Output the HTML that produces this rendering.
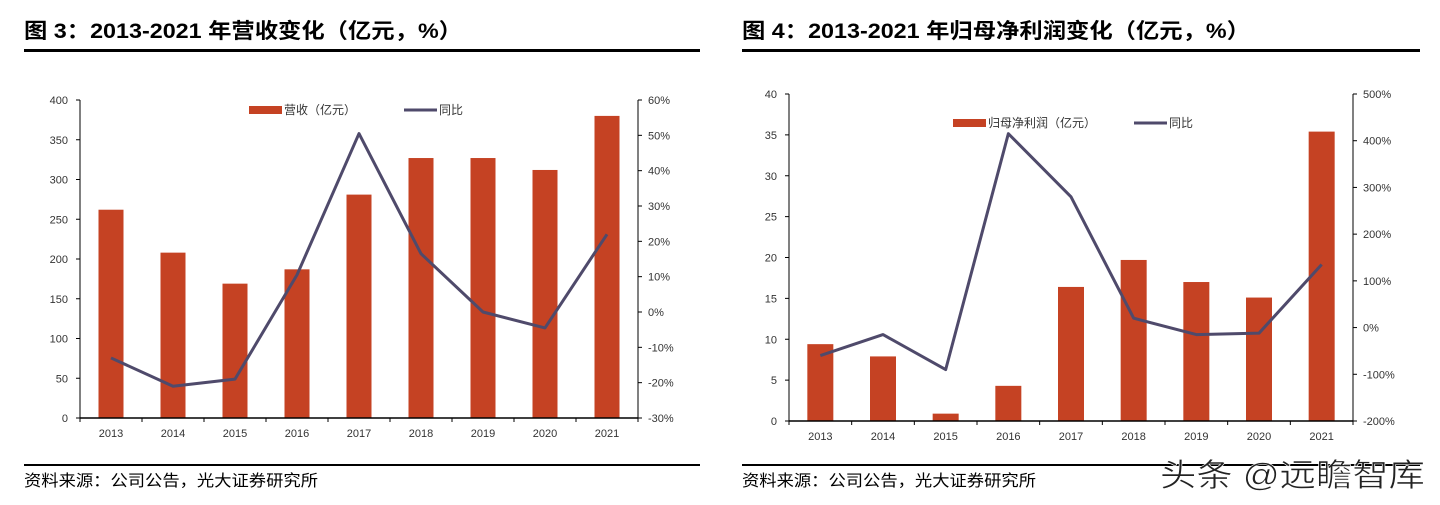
<!DOCTYPE html>
<html><head><meta charset="utf-8"><style>
body{margin:0;background:#fff;width:1440px;height:505px;overflow:hidden}
svg{display:block}
text{font-family:"Liberation Sans","Noto Sans CJK SC",sans-serif}
</style></head><body>
<svg id="s" width="1440" height="505" xmlns="http://www.w3.org/2000/svg">
<text x="24" y="38" font-size="21" font-weight="bold" fill="#000" textLength="438" lengthAdjust="spacingAndGlyphs">图 3：2013-2021 年营收变化（亿元，%）</text>
<rect x="24" y="49" width="676" height="3" fill="#000"/>
<text x="742" y="38" font-size="21" font-weight="bold" fill="#000" textLength="508" lengthAdjust="spacingAndGlyphs">图 4：2013-2021 年归母净利润变化（亿元，%）</text>
<rect x="742" y="49" width="678" height="3" fill="#000"/>
<rect x="24" y="464" width="676" height="2" fill="#000"/>
<rect x="742" y="464" width="678" height="2" fill="#000"/>
<text x="24" y="486" font-size="16" fill="#000" textLength="294" lengthAdjust="spacingAndGlyphs">资料来源：公司公告，光大证券研究所</text>
<text x="742" y="486" font-size="16" fill="#000" textLength="294" lengthAdjust="spacingAndGlyphs">资料来源：公司公告，光大证券研究所</text>
<text x="1160" y="486" font-size="32" fill="#222" stroke="#fff" stroke-width="0.6" textLength="265" lengthAdjust="spacingAndGlyphs">头条 @远瞻智库</text>
<g id="c1"></g><g id="c2"></g>
</svg>
<script>
const years=["2013","2014","2015","2016","2017","2018","2019","2020","2021"];
const revenue=[262,208,169,187,281,327,327,312,380];
const revenueYoY=[-13,-21,-19,10.5,50.5,16.5,0,-4.5,22];
const leftTicks=[0,50,100,150,200,250,300,350,400];
const leftPctTicks=[-30,-20,-10,0,10,20,30,40,50,60];
const profit=[9.4,7.9,0.9,4.3,16.4,19.7,17.0,15.1,35.4];
const profitYoY=[-60,-15,-90,415,280,20,-15,-12,135];
const rightTicks=[0,5,10,15,20,25,30,35,40];
const rightPctTicks=[-200,-100,0,100,200,300,400,500];
const NS="http://www.w3.org/2000/svg";
function mk(p,t,a){const e=document.createElementNS(NS,t);for(const k in a)e.setAttribute(k,a[k]);p.appendChild(e);return e;}
function draw(gid,o){
 const g=document.getElementById(gid);
 const n=o.cats.length,step=(o.x1-o.x0)/n;
 const y=v=>o.yb-(v-o.ymin)/(o.ymax-o.ymin)*(o.yb-o.yt);
 const y2=v=>o.yb-(v-o.pmin)/(o.pmax-o.pmin)*(o.yb-o.yt);
 const cx=i=>o.x0+step*(i+0.5);
 let e;
 o.ticks.forEach(t=>{
  e=mk(g,'line',{x1:o.x0-4,x2:o.x0,y1:y(t),y2:y(t),stroke:'#000'});
  
  
  e=mk(g,'text',{x:o.x0-12,y:y(t)+4,'font-size':11,'text-anchor':'end',fill:'#333'});e.textContent=t;
  
  
 });
 o.pticks.forEach(t=>{
  e=mk(g,'line',{x1:o.x1,x2:o.x1+4,y1:y2(t),y2:y2(t),stroke:'#000'});
  
  
  e=mk(g,'text',{x:o.x1+10,y:y2(t)+4,'font-size':11,fill:'#333'});e.textContent=t+'%';
  
  
 });
 o.bars.forEach((v,i)=>{
  e=mk(g,'rect',{x:cx(i)-o.bw/2,y:y(v),width:o.bw,height:y(0)-y(v),fill:'#c54223'});
  
  
 });
 for(let i=0;i<=n;i++){e=mk(g,'line',{x1:o.x0+step*i,x2:o.x0+step*i,y1:o.yb,y2:o.yb+4,stroke:'#000'});
  
  }
 o.cats.forEach((c,i)=>{e=mk(g,'text',{x:cx(i),y:o.yb+19,'font-size':11,'text-anchor':'middle',fill:'#333'});e.textContent=c;
  
  });
 e=mk(g,'line',{x1:o.x0,x2:o.x0,y1:o.yt,y2:o.yb,stroke:'#000'});
 
 
 e=mk(g,'line',{x1:o.x1,x2:o.x1,y1:o.yt,y2:o.yb,stroke:'#000'});
 
 
 e=mk(g,'line',{x1:o.x0,x2:o.x1,y1:o.yb,y2:o.yb,stroke:'#000','stroke-width':1.5});
 
 
 e=mk(g,'polyline',{points:o.line.map((v,i)=>cx(i)+','+y2(v)).join(' '),fill:'none',stroke:'#4f4a6b','stroke-width':3,'stroke-linejoin':'round'});
 
 
 e=mk(g,'rect',{x:o.lx,y:o.ly-4,width:33,height:8,fill:'#c54223'});
 
 
 e=mk(g,'text',{x:o.lx+35,y:o.ly+4,'font-size':12,fill:'#333'});e.textContent=o.lbl;
 
 
 e=mk(g,'line',{x1:o.lx2,x2:o.lx2+33,y1:o.ly,y2:o.ly,stroke:'#4f4a6b','stroke-width':3});
 
 
 e=mk(g,'text',{x:o.lx2+35,y:o.ly+4,'font-size':12,fill:'#333'});e.textContent='同比';
 
 
}
draw('c1',{cats:years,bars:revenue,line:revenueYoY,ticks:leftTicks,pticks:leftPctTicks,x0:80,x1:638,yt:100,yb:418,ymin:0,ymax:400,pmin:-30,pmax:60,bw:25,lx:249,ly:110,lx2:404,lbl:'营收（亿元）'});
draw('c2',{cats:years,bars:profit,line:profitYoY,ticks:rightTicks,pticks:rightPctTicks,x0:789,x1:1353,yt:94,yb:421,ymin:0,ymax:40,pmin:-200,pmax:500,bw:26,lx:953,ly:123,lx2:1134,lbl:'归母净利润（亿元）'});
</script>
</body></html>
